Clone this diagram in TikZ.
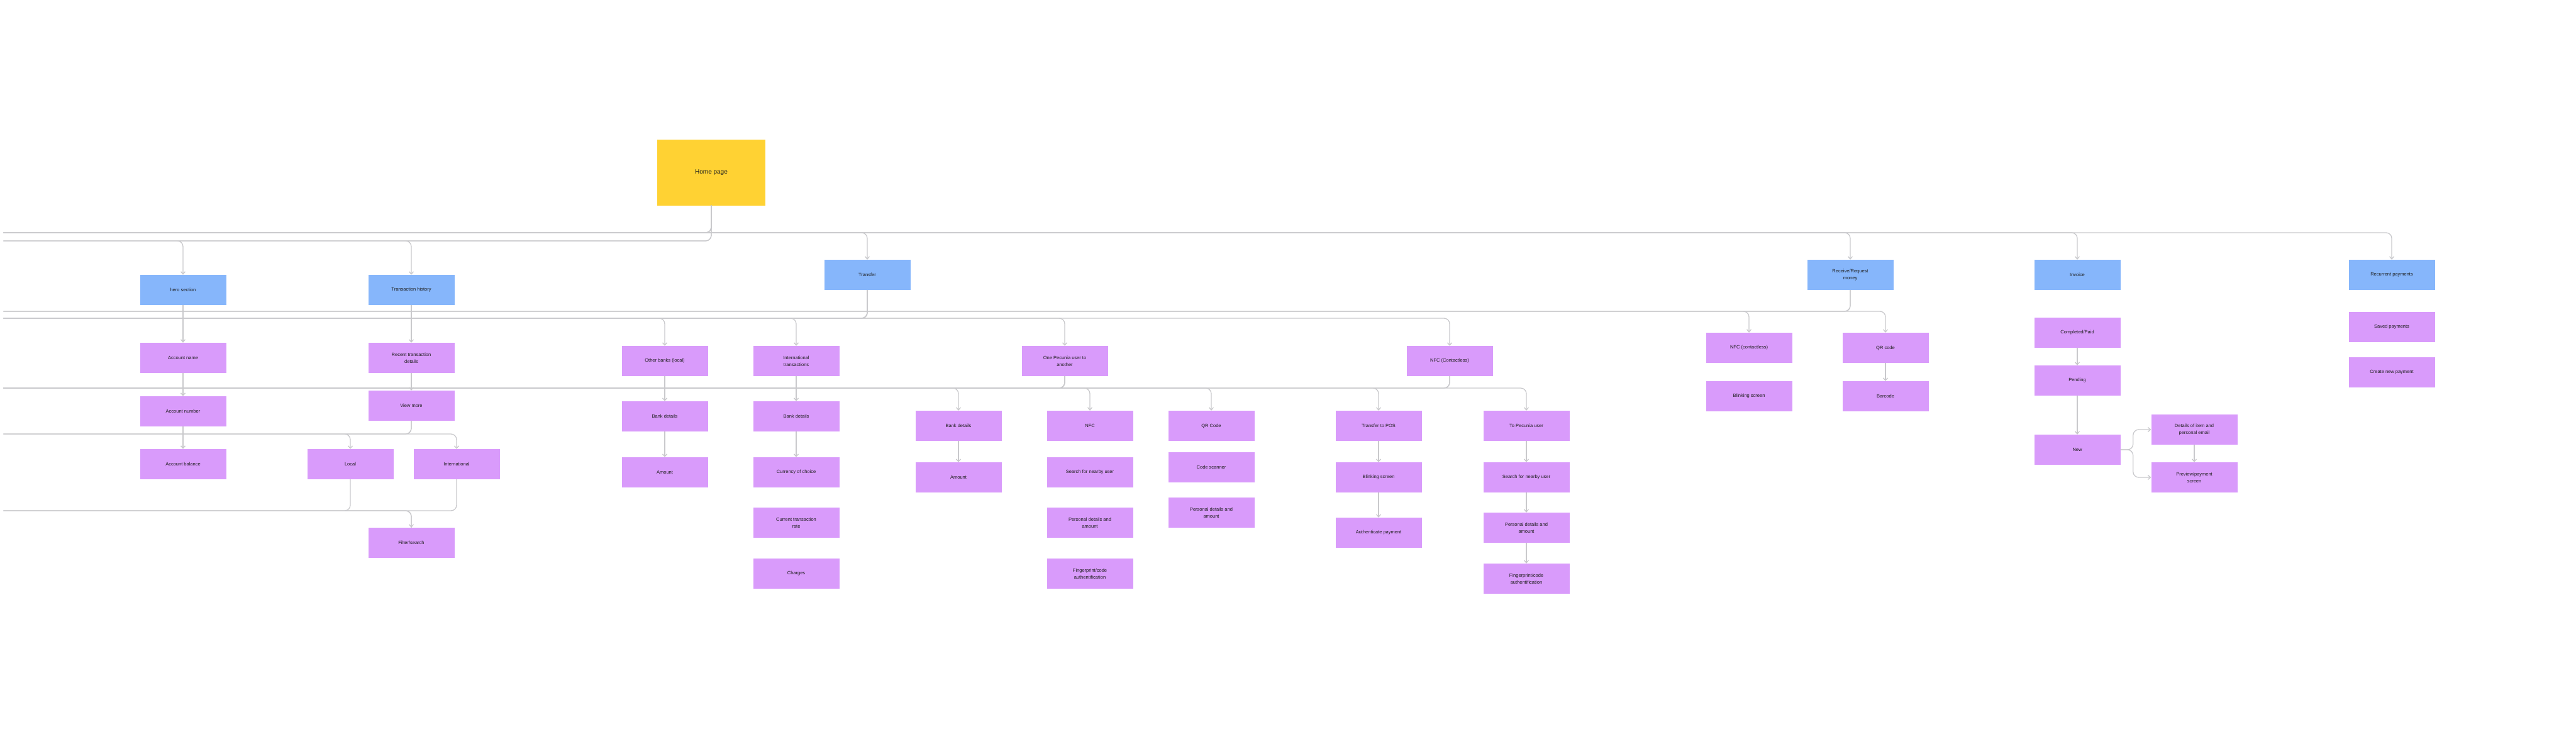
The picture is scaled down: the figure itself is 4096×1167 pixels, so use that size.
\documentclass[tikz,border=0pt]{standalone}
\usepackage{fontspec}
\setmainfont{Liberation Sans}
\usetikzlibrary{arrows.meta}
\definecolor{bluebox}{HTML}{86B6FB}
\definecolor{purplebox}{HTML}{D99BFB}
\definecolor{yellowbox}{HTML}{FFD233}
\definecolor{linec}{HTML}{C9C9CC}
\definecolor{txt}{HTML}{1E1E1E}
\tikzset{
  box/.style={minimum width=137pt,minimum height=48pt,inner sep=2pt,align=center,text=txt,font=\fontsize{7.5}{11}\selectfont},
  bl/.style={box,fill=bluebox},
  pu/.style={box,fill=purplebox},
  conn/.style={draw=linec,line width=1.3pt,rounded corners=9pt,-{Straight Barb[length=4pt,width=7pt]}},
  plain/.style={draw=linec,line width=1.3pt,rounded corners=9pt}
}
\begin{document}
\begin{tikzpicture}[x=1pt,y=-1pt]
\useasboundingbox (0,0) rectangle (4096,1167);
\node[box,fill=yellowbox,minimum width=172pt,minimum height=105pt,font=\fontsize{10}{12}\selectfont] (home) at (1131,274) {Home page};
% top level
\node[bl] (hero) at (291,461) {hero section};
\node[bl] (th) at (654,461) {Transaction history};
\node[bl] (tr) at (1379,437) {Transfer};
\node[bl] (rr) at (2942,437) {Receive/Request\\money};
\node[bl] (inv) at (3303,437) {Invoice};
\node[bl] (rec) at (3803,437) {Recurrent payments};
% hero
\node[pu] (an) at (291,569) {Account name};
\node[pu] (anum) at (291,654) {Account number};
\node[pu] (ab) at (291,738) {Account balance};
% transaction history
\node[pu] (rtd) at (654,569) {Recent transaction\\details};
\node[pu] (vm) at (654,645) {View more};
\node[pu] (loc) at (557,738) {Local};
\node[pu] (intl) at (726,738) {International};
\node[pu] (fs) at (654,863) {Filter/search};
% transfer
\node[pu] (ob) at (1057,574) {Other banks (local)};
\node[pu] (obbd) at (1057,662) {Bank details};
\node[pu] (obam) at (1057,751) {Amount};
\node[pu] (it) at (1266,574) {International\\transactions};
\node[pu] (itbd) at (1266,662) {Bank details};
\node[pu] (itcc) at (1266,751) {Currency of choice};
\node[pu] (itcr) at (1266,831) {Current transaction\\rate};
\node[pu] (itch) at (1266,912) {Charges};
\node[pu] (op) at (1693,574) {One Pecunia user to\\another};
\node[pu] (opbd) at (1524,677) {Bank details};
\node[pu] (opam) at (1524,759) {Amount};
\node[pu] (opnfc) at (1733,677) {NFC};
\node[pu] (opsn) at (1733,751) {Search for nearby user};
\node[pu] (oppd) at (1733,831) {Personal details and\\amount};
\node[pu] (opfp) at (1733,912) {Fingerprint/code\\authentification};
\node[pu] (opqr) at (1926,677) {QR Code};
\node[pu] (opcs) at (1926,743) {Code scanner};
\node[pu] (opqpd) at (1926,815) {Personal details and\\amount};
\node[pu] (nfc) at (2305,574) {NFC (Contactless)};
\node[pu] (pos) at (2192,677) {Transfer to POS};
\node[pu] (posbs) at (2192,759) {Blinking screen};
\node[pu] (posap) at (2192,847) {Authenticate payment};
\node[pu] (tpu) at (2427,677) {To Pecunia user};
\node[pu] (tpusn) at (2427,759) {Search for nearby user};
\node[pu] (tpupd) at (2427,839) {Personal details and\\amount};
\node[pu] (tpufp) at (2427,920) {Fingerprint/code\\authentification};
% receive
\node[pu] (rnfc) at (2781,553) {NFC (contactless)};
\node[pu] (rbs) at (2781,630) {Blinking screen};
\node[pu] (rqr) at (2998,553) {QR code};
\node[pu] (rbc) at (2998,630) {Barcode};
% invoice
\node[pu] (cp) at (3303,529) {Completed/Paid};
\node[pu] (pen) at (3303,605) {Pending};
\node[pu] (new) at (3303,715) {New};
\node[pu] (dip) at (3489,683) {Details of item and\\personal email};
\node[pu] (pps) at (3489,759) {Preview/payment\\screen};
% recurrent
\node[pu] (sp) at (3803,520) {Saved payments};
\node[pu] (cnp) at (3803,592) {Create new payment};
% connectors from home
\draw[conn] (home.south) |- (0,383) -| (hero.north);
\draw[conn] (home.south) |- (0,383) -| (th.north);
\foreach \t in {tr,rr,inv,rec}
  \draw[conn] (home.south) |- (0,370) -| (\t.north);
% transfer bus
\foreach \t in {ob,it,op,nfc}
  \draw[conn] (tr.south) |- (0,506) -| (\t.north);
\foreach \t in {opbd,opnfc,opqr}
  \draw[conn] (op.south) |- (0,617) -| (\t.north);
\foreach \t in {pos,tpu}
  \draw[conn] (nfc.south) |- (0,617) -| (\t.north);
\foreach \t in {rnfc,rqr}
  \draw[conn] (rr.south) |- (0,495) -| (\t.north);
\foreach \t in {loc,intl}
  \draw[conn] (vm.south) |- (0,690) -| (\t.north);
\draw[plain] (loc.south) |- (0,812) -| (fs.north);
\draw[conn] (intl.south) |- (0,812) -| (fs.north);
% chains
\draw[conn] (hero) -- (an);
\draw[conn] (an) -- (anum);
\draw[conn] (anum) -- (ab);
\draw[conn] (th) -- (rtd);
\draw[conn] (rtd) -- (vm);
\draw[conn] (ob) -- (obbd);
\draw[conn] (obbd) -- (obam);
\draw[conn] (it) -- (itbd);
\draw[conn] (itbd) -- (itcc);
\draw[conn] (opbd) -- (opam);
\draw[conn] (pos) -- (posbs);
\draw[conn] (posbs) -- (posap);
\draw[conn] (tpu) -- (tpusn);
\draw[conn] (tpusn) -- (tpupd);
\draw[conn] (tpupd) -- (tpufp);
\draw[conn] (rqr) -- (rbc);
\draw[conn] (cp) -- (pen);
\draw[conn] (pen) -- (new);
\draw[conn] (dip) -- (pps);
\draw[conn] (new.east) -- ++(20,0) |- (dip.west);
\draw[conn] (new.east) -- ++(20,0) |- (pps.west);
\end{tikzpicture}
\end{document}
